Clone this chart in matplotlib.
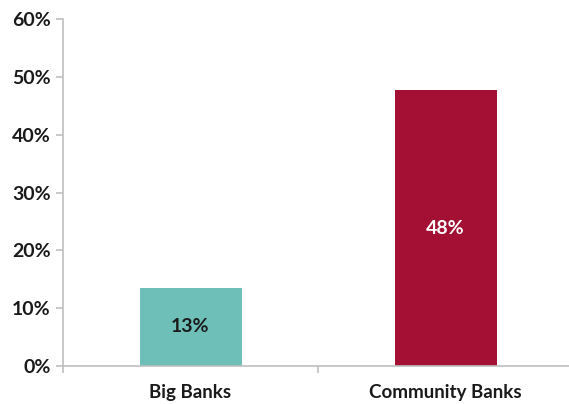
import matplotlib.pyplot as plt
from matplotlib.ticker import FixedLocator, PercentFormatter

## Data

categories = ["Big Banks", "Community Banks"]
values = [13.5, 47.7]
labels = ["13%", "48%"]
bar_colors = ["#6DBFB8", "#A31034"]
label_colors = ["#1A1A1A", "white"]

## Figure

plt.rcParams['font.family'] = ['Lato', 'DejaVu Sans']

fig = plt.figure(figsize=(5.69, 4.04), dpi=100)
ax = fig.add_axes([63 / 569, 1 - 366 / 404, 510 / 569, 347 / 404])

x = range(len(categories))
bars = ax.bar(x, values, width=0.4, color=bar_colors)

for bar, lab, col in zip(bars, labels, label_colors):
    ax.text(bar.get_x() + bar.get_width() / 2, bar.get_height() / 2, lab,
            ha='center', va='center', fontsize=14, fontweight='bold', color=col)

ax.set_xlim(-0.5, 1.5)
ax.set_ylim(0, 60)
ax.set_yticks(range(0, 61, 10))
ax.yaxis.set_major_formatter(PercentFormatter(decimals=0))
ax.set_xticks(list(x))
ax.set_xticklabels(categories)
ax.xaxis.set_minor_locator(FixedLocator([-0.5, 0.5, 1.5]))

for side in ['top', 'right']:
    ax.spines[side].set_visible(False)
for side in ['left', 'bottom']:
    ax.spines[side].set_color('#BFBFBF')
    ax.spines[side].set_linewidth(1.2)

ax.tick_params(axis='y', length=5, width=1.2, color='#BFBFBF', labelsize=14,
               labelcolor='#1A1A1A', pad=4)
ax.tick_params(axis='x', which='major', length=0, labelsize=13.5,
               labelcolor='#1A1A1A', pad=13)
ax.tick_params(axis='x', which='minor', length=5, width=1.2, color='#BFBFBF')
for t in ax.get_xticklabels() + ax.get_yticklabels():
    t.set_fontweight('bold')

fig.savefig("out.png", dpi=100)
